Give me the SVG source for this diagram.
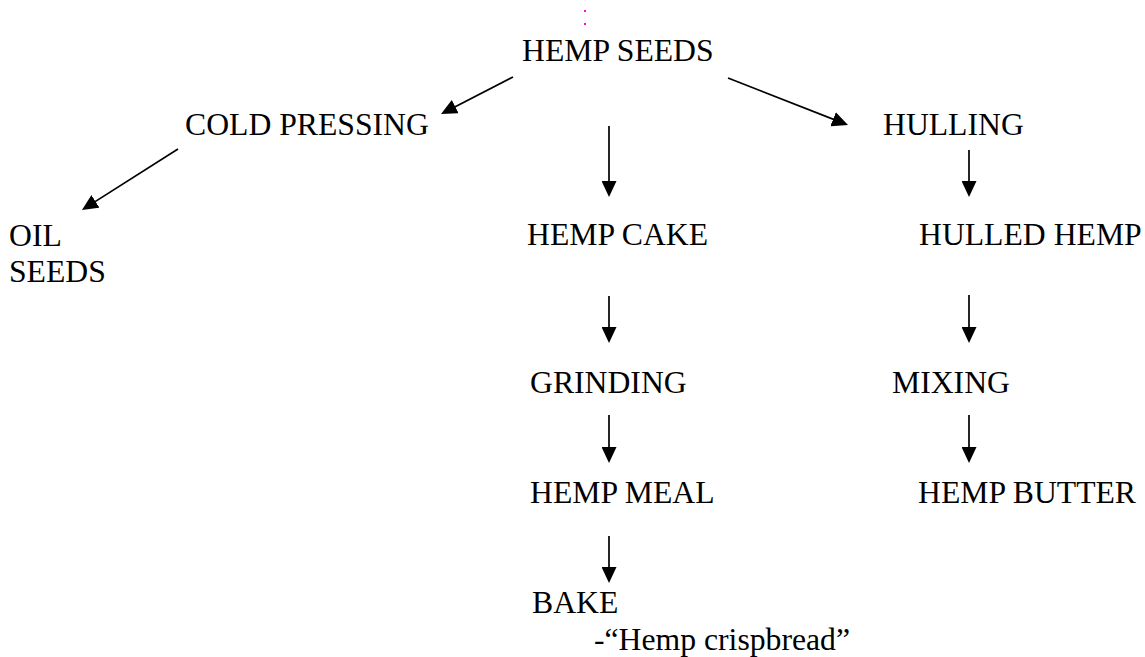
<svg xmlns="http://www.w3.org/2000/svg" width="1145" height="657" viewBox="0 0 1145 657">
<style>
.t text{font-size:31.7px;fill:#000}
.c line{stroke:#000;stroke-width:1.7;marker-end:url(#ah)}
</style>
<defs>
<marker id="ah" markerUnits="userSpaceOnUse" markerWidth="16" markerHeight="15" refX="6" refY="7.5" orient="auto" viewBox="0 0 16 15">
<path d="M0,0 L16,7.5 L0,15 z" fill="#000"/>
</marker>
</defs>
<rect width="1145" height="657" fill="#fff"/>
<g id="mark"><rect x="584" y="10" width="2" height="2" fill="#ff00ff"/><rect x="584" y="23" width="2" height="2" fill="#ff00ff"/></g>
<g class="t" font-family="Liberation Serif, DejaVu Serif, serif">
<g id="hemp-seeds"><text x="522" y="61">HEMP SEEDS</text></g>
<g id="cold-pressing"><text x="185" y="135">COLD PRESSING</text></g>
<g id="oil-seeds"><text x="9" y="246">OIL</text><text x="9" y="282">SEEDS</text></g>
<g id="hulling"><text x="883" y="135">HULLING</text></g>
<g id="hemp-cake"><text x="527" y="245">HEMP CAKE</text></g>
<g id="hulled-hemp"><text x="919" y="245">HULLED HEMP</text></g>
<g id="grinding"><text x="530" y="393">GRINDING</text></g>
<g id="mixing"><text x="892" y="393">MIXING</text></g>
<g id="hemp-meal"><text x="530" y="503">HEMP MEAL</text></g>
<g id="hemp-butter"><text x="918" y="503">HEMP BUTTER</text></g>
<g id="bake"><text x="532" y="613">BAKE</text><text x="594" y="650">-“Hemp crispbread”</text></g>
</g>
<g class="c" id="connectors">
<line x1="513" y1="77" x2="449.9" y2="109.4"/>
<line x1="728" y1="78" x2="838.7" y2="121.4"/>
<line x1="178" y1="149" x2="90.4" y2="204.6"/>
<line x1="609" y1="126" x2="609" y2="187"/>
<line x1="609" y1="296" x2="609" y2="333"/>
<line x1="609" y1="415" x2="609" y2="453"/>
<line x1="609" y1="536" x2="609" y2="573"/>
<line x1="969" y1="150" x2="969" y2="187"/>
<line x1="969" y1="295" x2="969" y2="333"/>
<line x1="969" y1="415" x2="969" y2="453"/>
</g>
</svg>
